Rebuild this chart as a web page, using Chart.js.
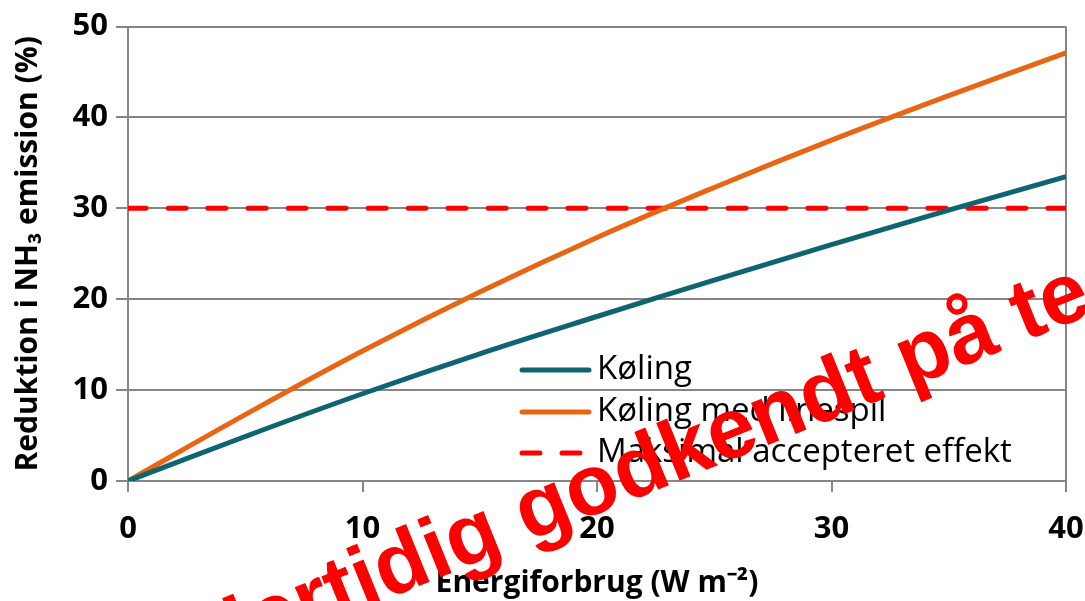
<!DOCTYPE html>
<html>
<head>
<meta charset="utf-8">
<script src="https://cdn.jsdelivr.net/npm/chart.js@4.4.1/dist/chart.umd.min.js"></script>
<style>
  html, body { margin: 0; padding: 0; background: #fff; }
  #wrap { width: 1085px; height: 601px; position: relative; }
</style>
</head>
<body>
<div id="wrap"><canvas id="chart"></canvas></div>
<script>
const ENERGY = [0, 5, 10, 15, 20, 25, 30, 35, 40];
const KOELING = [0, 4.9, 9.6, 14.0, 18.1, 22.1, 26.0, 29.8, 33.5];
const KOELING_MED = [0, 7.3, 14.3, 20.8, 26.8, 32.3, 37.5, 42.4, 47.1];
const MAX_EFFEKT = [30, 30, 30, 30, 30, 30, 30, 30, 30];
const SERIES_NAMES = ['Køling', 'Køling med linespil', 'Maksimal accepteret effekt'];
const Y_TICKS = [0, 10, 20, 30, 40, 50];
const X_TICKS = [0, 10, 20, 30, 40];

const GRID = '#868686';
const FONT = "'Open Sans', 'Liberation Sans', sans-serif";

const pts = (ys) => ENERGY.map((x, i) => ({ x, y: ys[i] }));

// legend drawn inside the plot, rows stacked under each other
const legendInPlot = {
  id: 'legendInPlot',
  afterDraw(chart) {
    const ctx = chart.ctx;
    const rows = [370, 412, 453];
    ctx.save();
    chart.data.datasets.forEach((ds, i) => {
      const y = rows[i];
      ctx.beginPath();
      ctx.strokeStyle = ds.borderColor;
      ctx.lineWidth = ds.borderWidth;
      ctx.lineCap = 'round';
      ctx.setLineDash(ds.borderDash || []);
      ctx.moveTo(522, y);
      ctx.lineTo(589, y);
      ctx.stroke();
      ctx.setLineDash([]);
      ctx.fillStyle = '#000';
      ctx.font = `33px ${FONT}`;
      ctx.textBaseline = 'middle';
      ctx.textAlign = 'left';
      ctx.fillText(ds.label, 597, y);
    });
    ctx.restore();
  },
};

// red stamp across the chart
const stamp = {
  id: 'stamp',
  afterDraw(chart) {
    const ctx = chart.ctx;
    ctx.save();
    ctx.translate(528, 542);
    ctx.rotate(-22 * Math.PI / 180);
    ctx.fillStyle = '#ff0000';
    ctx.font = "bold 86px 'Liberation Sans', Arial, sans-serif";
    ctx.textBaseline = 'alphabetic';
    ctx.textAlign = 'right';
    ctx.fillText('Midlertidig ', 0, 0);
    ctx.textAlign = 'left';
    ctx.fillText('godkendt på test', 0, 0);
    ctx.restore();
  },
};

new Chart(document.getElementById('chart'), {
  type: 'line',
  data: {
    datasets: [
      { label: SERIES_NAMES[0], data: pts(KOELING), borderColor: '#0e6570', borderWidth: 5 },
      { label: SERIES_NAMES[1], data: pts(KOELING_MED), borderColor: '#e86511', borderWidth: 5 },
      { label: SERIES_NAMES[2], data: pts(MAX_EFFEKT), borderColor: '#ff0000', borderWidth: 5,
        borderDash: [18, 22], borderCapStyle: 'round' },
    ],
  },
  options: {
    responsive: true,
    maintainAspectRatio: false,
    animation: false,
    layout: { padding: { top: 25, right: 0, left: 0, bottom: 0 } },
    elements: { point: { radius: 0 }, line: { tension: 0.4 } },
    plugins: { legend: { display: false }, tooltip: { enabled: false } },
    scales: {
      x: {
        type: 'linear', min: 0, max: 40,
        afterBuildTicks: (s) => { s.ticks = X_TICKS.map((v) => ({ value: v })); },
        afterFit: (s) => { s.height = 120; s.paddingRight = 19; s.paddingLeft = 0; },
        grid: {
          color: (c) => (c.tick && c.tick.value === 40 ? GRID : 'rgba(0,0,0,0)'),
          tickColor: GRID, lineWidth: 2, tickLength: 11,
        },
        border: { color: GRID, width: 2 },
        ticks: { color: '#000', padding: 19, font: { family: FONT, size: 31, weight: 'bold' } },
        title: {
          display: true, text: 'Energiforbrug (W m⁻²)', color: '#000',
          font: { family: FONT, size: 30, weight: 'bold' }, padding: { top: 0, bottom: 0 },
        },
      },
      y: {
        min: 0, max: 50,
        afterBuildTicks: (s) => { s.ticks = Y_TICKS.map((v) => ({ value: v })); },
        afterFit: (s) => { s.width = 128; },
        grid: { color: GRID, tickColor: GRID, lineWidth: 2, tickLength: 12 },
        border: { color: GRID, width: 2 },
        ticks: { color: '#000', padding: 8, font: { family: FONT, size: 31, weight: 'bold' } },
        title: {
          display: true, text: 'Reduktion i NH₃ emission (%)', color: '#000',
          font: { family: FONT, size: 30, weight: 'bold' }, padding: { top: 10, bottom: 0 },
        },
      },
    },
  },
  plugins: [legendInPlot, stamp],
});
</script>
</body>
</html>
